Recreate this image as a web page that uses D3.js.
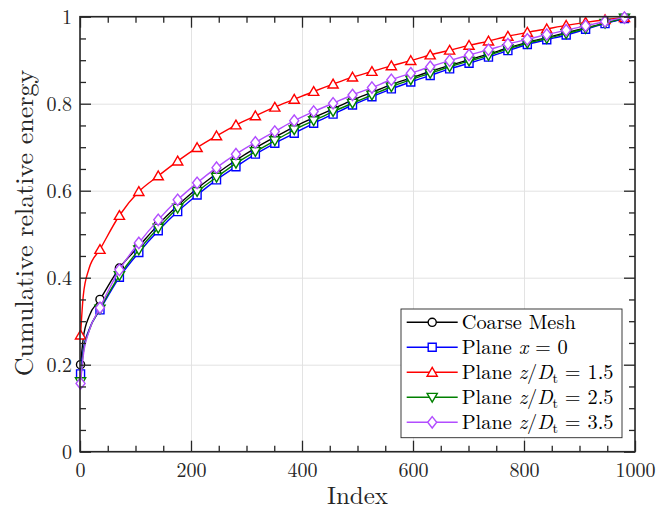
<!DOCTYPE html>
<html>
<head>
<meta charset="utf-8">
<script src="https://cdn.jsdelivr.net/npm/d3@7"></script>
<style>
  html, body { margin: 0; padding: 0; background: #fff; }
  svg { display: block; }
</style>
</head>
<body>
<svg id="chart" width="670" height="513"></svg>
<script>
// Sample indices of the cumulative energy curves (markers sit on every 35th mode)
const sampleIndex = [1, 6, 16, 36, 71, 106, 141, 176, 211, 246, 281, 316, 351, 386, 421, 456,
  491, 526, 561, 596, 631, 666, 701, 736, 771, 806, 841, 876, 911, 946, 981, 1000];
const markerIndex = [1, 36, 71, 106, 141, 176, 211, 246, 281, 316, 351, 386, 421, 456,
  491, 526, 561, 596, 631, 666, 701, 736, 771, 806, 841, 876, 911, 946, 981];

const coarseMesh = [0.200, 0.262, 0.310, 0.350, 0.422, 0.472, 0.522, 0.566, 0.605, 0.639, 0.670,
  0.698, 0.723, 0.747, 0.768, 0.788, 0.808, 0.826, 0.844, 0.859, 0.874, 0.888, 0.901, 0.914,
  0.928, 0.941, 0.952, 0.963, 0.974, 0.985, 0.996, 1.000];
const planeX0 = [0.179, 0.235, 0.280, 0.326, 0.401, 0.458, 0.508, 0.552, 0.590, 0.625, 0.655,
  0.684, 0.709, 0.732, 0.755, 0.776, 0.797, 0.816, 0.834, 0.850, 0.865, 0.880, 0.893, 0.907,
  0.922, 0.936, 0.947, 0.958, 0.971, 0.984, 0.996, 1.000];
const planeZ15 = [0.268, 0.360, 0.420, 0.465, 0.543, 0.598, 0.634, 0.668, 0.699, 0.726, 0.751,
  0.772, 0.792, 0.810, 0.828, 0.845, 0.861, 0.874, 0.887, 0.899, 0.912, 0.923, 0.934, 0.944,
  0.955, 0.964, 0.972, 0.980, 0.987, 0.993, 0.998, 1.000];
const planeZ25 = [0.161, 0.228, 0.277, 0.328, 0.405, 0.464, 0.514, 0.560, 0.598, 0.631, 0.663,
  0.690, 0.715, 0.740, 0.761, 0.782, 0.801, 0.820, 0.839, 0.855, 0.870, 0.885, 0.898, 0.911,
  0.926, 0.939, 0.950, 0.961, 0.973, 0.985, 0.997, 1.000];
const planeZ35 = [0.157, 0.222, 0.276, 0.331, 0.418, 0.480, 0.533, 0.579, 0.618, 0.653, 0.684,
  0.711, 0.736, 0.761, 0.782, 0.801, 0.820, 0.837, 0.855, 0.870, 0.885, 0.899, 0.912, 0.924,
  0.937, 0.948, 0.959, 0.969, 0.979, 0.989, 0.998, 1.000];

const xTicks = [0, 200, 400, 600, 800, 1000];
const xTickLabels = ["0", "200", "400", "600", "800", "1000"];
const xMinorTicks = [50, 100, 150, 250, 300, 350, 450, 500, 550, 650, 700, 750, 850, 900, 950];
const yTicks = [0, 0.2, 0.4, 0.6, 0.8, 1];
const yTickLabels = ["0", "0.2", "0.4", "0.6", "0.8", "1"];
const yMinorTicks = [0.05, 0.1, 0.15, 0.25, 0.3, 0.35, 0.45, 0.5, 0.55, 0.65, 0.7, 0.75, 0.85, 0.9, 0.95];

const series = [
  { values: coarseMesh, color: "#000000", marker: "circle",
    label: [{ t: "Coarse Mesh" }] },
  { values: planeX0, color: "#0000ff", marker: "square",
    label: [{ t: "Plane " }, { t: "x", i: true }, { t: " = 0" }] },
  { values: planeZ15, color: "#ff0000", marker: "triangleUp",
    label: [{ t: "Plane " }, { t: "z", i: true }, { t: "/" }, { t: "D", i: true }, { t: "t", sub: true }, { t: " = 1.5", up: true }] },
  { values: planeZ25, color: "#008000", marker: "triangleDown",
    label: [{ t: "Plane " }, { t: "z", i: true }, { t: "/" }, { t: "D", i: true }, { t: "t", sub: true }, { t: " = 2.5", up: true }] },
  { values: planeZ35, color: "#b24dff", marker: "diamond",
    label: [{ t: "Plane " }, { t: "z", i: true }, { t: "/" }, { t: "D", i: true }, { t: "t", sub: true }, { t: " = 3.5", up: true }] }
];

const FONT = '"Latin Modern Roman", "Liberation Serif", serif';
const AXIS = "#262626";
const LW = 1.4;

const svg = d3.select("#chart");
const x = d3.scaleLinear().domain([0, 1000]).range([80, 635]);
const y = d3.scaleLinear().domain([0, 1]).range([451.7, 16.7]);
const plotW = x(1000) - x(0), plotH = y(0) - y(1);

// marker outlines centred on (0,0)
const markerPath = {
  circle: d3.symbol(d3.symbolCircle, 52)(),
  square: "M-4,-4H4V4H-4Z",
  triangleUp: "M0,-4.9L5.1,3.9L-5.1,3.9Z",
  triangleDown: "M0,4.9L5.1,-3.9L-5.1,-3.9Z",
  diamond: "M0,-5.7L4.5,0L0,5.7L-4.5,0Z"
};

function tidy(g) {
  g.select(".domain").remove();
  g.attr("font-family", null).attr("font-size", null);
  g.selectAll("line").attr("stroke", AXIS).attr("stroke-width", 1.3);
  g.selectAll("text").attr("fill", AXIS)
    .style("font-family", FONT).style("font-size", "20px");
}

// grid
svg.append("g").attr("transform", `translate(0,${y(0)})`)
  .call(d3.axisBottom(x).tickValues(xTicks).tickSize(-plotH).tickFormat(""))
  .call(g => { g.select(".domain").remove(); g.selectAll("line").attr("stroke", "#e3e3e3").attr("stroke-width", 1); });
svg.append("g").attr("transform", `translate(${x(0)},0)`)
  .call(d3.axisLeft(y).tickValues(yTicks).tickSize(-plotW).tickFormat(""))
  .call(g => { g.select(".domain").remove(); g.selectAll("line").attr("stroke", "#e3e3e3").attr("stroke-width", 1); });

// data: each curve followed by its own markers
const line = d3.line()
  .x((d, i) => x(sampleIndex[i]))
  .y(d => y(d))
  .curve(d3.curveMonotoneX);

series.forEach(s => {
  const g = svg.append("g");
  g.append("path")
    .attr("d", line(s.values))
    .attr("fill", "none")
    .attr("stroke", s.color)
    .attr("stroke-width", LW);
  const pts = markerIndex.map(k => ({ k, v: s.values[sampleIndex.indexOf(k)] }));
  g.selectAll("path.m").data(pts).join("path")
    .attr("class", "m")
    .attr("d", markerPath[s.marker])
    .attr("transform", d => `translate(${x(d.k)},${y(d.v)})`)
    .attr("fill", "#fff")
    .attr("stroke", s.color)
    .attr("stroke-width", LW);
});

// axes with inward ticks on all four sides
svg.append("g").attr("transform", `translate(0,${y(0)})`)
  .call(d3.axisBottom(x).tickValues(xTicks).tickSize(-11).tickPadding(11).tickFormat((d, i) => xTickLabels[i]))
  .call(tidy);
svg.append("g").attr("transform", `translate(0,${y(0)})`)
  .call(d3.axisBottom(x).tickValues(xMinorTicks).tickSize(-6).tickFormat(""))
  .call(tidy);
svg.append("g").attr("transform", `translate(0,${y(1)})`)
  .call(d3.axisTop(x).tickValues(xTicks).tickSize(-11).tickFormat(""))
  .call(tidy);
svg.append("g").attr("transform", `translate(0,${y(1)})`)
  .call(d3.axisTop(x).tickValues(xMinorTicks).tickSize(-6).tickFormat(""))
  .call(tidy);
svg.append("g").attr("transform", `translate(${x(0)},0)`)
  .call(d3.axisLeft(y).tickValues(yTicks).tickSize(-11).tickPadding(8).tickFormat((d, i) => yTickLabels[i]))
  .call(tidy);
svg.append("g").attr("transform", `translate(${x(0)},0)`)
  .call(d3.axisLeft(y).tickValues(yMinorTicks).tickSize(-6).tickFormat(""))
  .call(tidy);
svg.append("g").attr("transform", `translate(${x(1000)},0)`)
  .call(d3.axisRight(y).tickValues(yTicks).tickSize(-11).tickFormat(""))
  .call(tidy);
svg.append("g").attr("transform", `translate(${x(1000)},0)`)
  .call(d3.axisRight(y).tickValues(yMinorTicks).tickSize(-6).tickFormat(""))
  .call(tidy);

svg.append("rect")
  .attr("x", x(0)).attr("y", y(1)).attr("width", plotW).attr("height", plotH)
  .attr("fill", "none").attr("stroke", AXIS).attr("stroke-width", 1.6);

// axis titles
svg.append("text")
  .attr("x", (x(0) + x(1000)) / 2).attr("y", 504)
  .attr("text-anchor", "middle").attr("fill", AXIS)
  .style("font-family", FONT).style("font-size", "25px")
  .text("Index");
svg.append("text")
  .attr("transform", "translate(33,223) rotate(-90)")
  .attr("text-anchor", "middle").attr("fill", AXIS)
  .style("font-family", FONT).style("font-size", "26px")
  .text("Cumulative relative energy");

// legend
const lg = svg.append("g").attr("transform", "translate(401,309)");
lg.append("rect").attr("width", 221).attr("height", 128.7)
  .attr("fill", "#fff").attr("stroke", AXIS).attr("stroke-width", 0.9);
series.forEach((s, i) => {
  const row = lg.append("g").attr("transform", `translate(0,${13.3 + 25 * i})`);
  row.append("line").attr("x1", 5.7).attr("x2", 56.7).attr("y1", 0).attr("y2", 0)
    .attr("stroke", s.color).attr("stroke-width", LW);
  row.append("path").attr("d", markerPath[s.marker])
    .attr("transform", "translate(31.2,0)")
    .attr("fill", "#fff").attr("stroke", s.color).attr("stroke-width", LW);
  const t = row.append("text").attr("x", 60.7).attr("y", 6.8).attr("fill", "#000")
    .style("font-family", FONT).style("font-size", "20.4px");
  s.label.forEach(p => {
    const sp = t.append("tspan").text(p.t);
    if (p.i) sp.style("font-style", "italic");
    if (p.sub) sp.style("font-size", "14px").attr("dy", 4);
    if (p.up) sp.attr("dy", -4);
  });
});
</script>
</body>
</html>
